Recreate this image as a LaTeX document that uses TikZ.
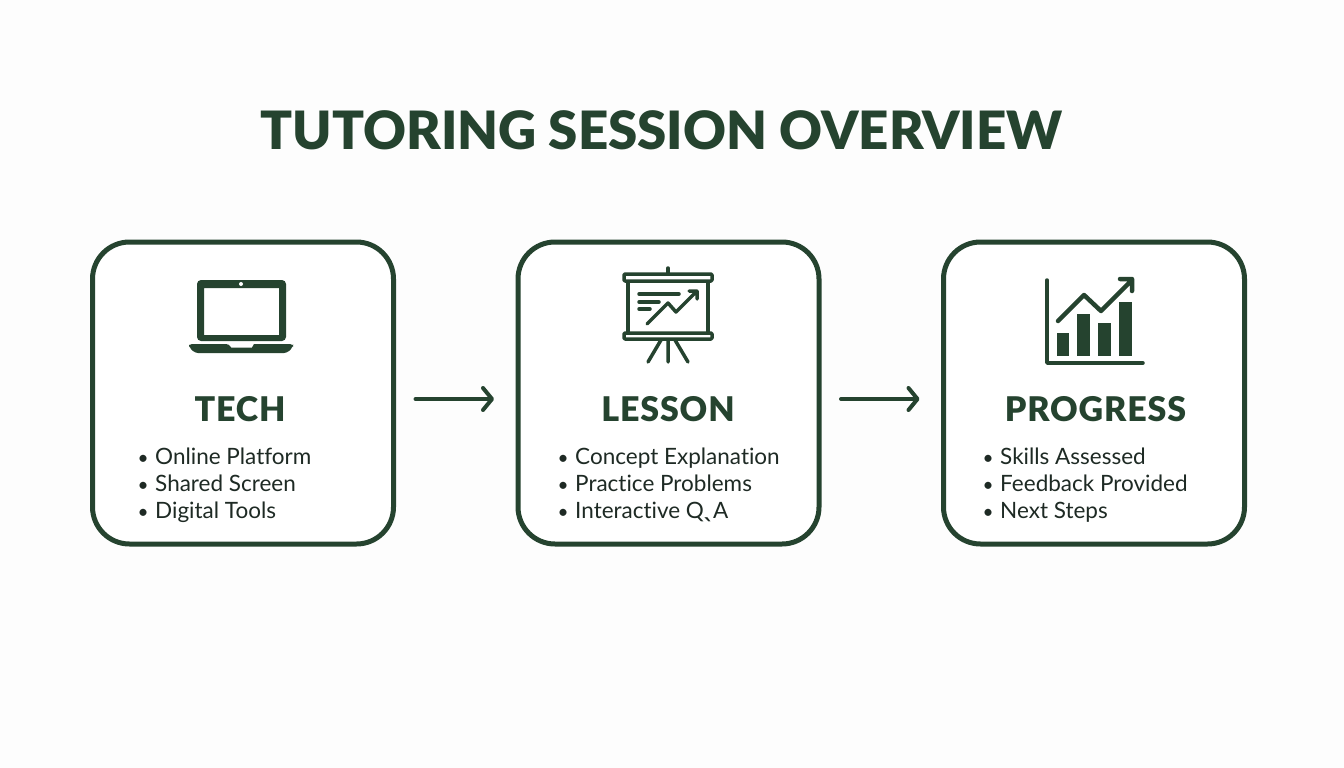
\documentclass[tikz,border=0pt]{standalone}
\usepackage{fontspec}
\setmainfont[Ligatures=NoCommon]{Lato}
\newfontfamily\titlefont[Ligatures=NoCommon]{Lato Black}
\newfontfamily\headfont[Ligatures=NoCommon, LetterSpace=2.5]{Lato Black}
\newfontfamily\tickfont{DejaVu Sans}
\usetikzlibrary{positioning,arrows.meta}
\definecolor{darkgreen}{HTML}{25432F}
\definecolor{bulletink}{HTML}{1E2A24}
\newcommand{\dotitem}{{\fontsize{19}{27}\selectfont\textbullet}\hspace{6.5pt}}
\begin{document}
\begin{tikzpicture}[
		x=1pt, y=-1pt,
		title/.style={text=darkgreen, font=\fontsize{52.8}{54}\selectfont\titlefont, inner sep=0pt},
		card/.style={rectangle, draw=darkgreen, line width=5pt, rounded corners=37pt, minimum width=301pt, minimum height=302pt, outer sep=0pt, fill=white},
		heading/.style={text=darkgreen, font=\fontsize{34}{34}\selectfont\headfont, inner sep=0pt},
		points/.style={text=bulletink, font=\fontsize{22.5}{27}\selectfont, align=left, inner sep=0pt, anchor=north west},
		flow/.style={draw=darkgreen, line width=4pt, line cap=round, -{Straight Barb[length=9pt, width=22pt, round]}, shorten <=22pt, shorten >=24pt},
		iconline/.style={draw=darkgreen, line width=3.5pt, line cap=round, line join=round},
		iconfill/.style={fill=darkgreen}
	]
	\fill[white!99!darkgreen] (0,0) rectangle (1344,768);
	\useasboundingbox (0,0) rectangle (1344,768);
	\node[title] (overview) at (661.5,130) {TUTORING SESSION OVERVIEW};
	\node[card] (tech) at (243,393) {};
	\node[card] (lesson) [right=124.5pt of tech] {};
	\node[card] (progress) [right=124.5pt of lesson] {};
	\node[heading] (techhead) at (240,409) {TECH};
	\node[heading] (lessonhead) at (668,409) {LESSON};
	\node[heading] (progresshead) at (1095.5,409) {PROGRESS};
	\node[points] (techlist) at (137.5,448) {\dotitem Online Platform\\\dotitem Shared Screen\\\dotitem Digital Tools};
	\node[points] (lessonlist) at (557.5,448) {\dotitem Concept Explanation\\\dotitem Practice Problems\\\dotitem Interactive Q\kern-0.5pt\raisebox{2pt}{\tickfont\bfseries\char"02CE}\kern-1.5pt A};
	\node[points] (progresslist) at (982.5,448) {\dotitem Skills Assessed\\\dotitem Feedback Provided\\\dotitem Next Steps};
	\draw[flow] ([yshift=-6pt]tech.east) -- ([yshift=-6pt]lesson.west);
	\draw[flow] ([yshift=-6pt]lesson.east) -- ([yshift=-6pt]progress.west);
	% laptop
	\fill[iconfill, even odd rule, rounded corners=4pt] (197,280) rectangle (286,341) (204,288) [sharp corners] rectangle (279,335);
	\fill[white] (241,284) circle (2pt);
	\fill[iconfill, rounded corners=3pt] (189,344) -- (229,344) [sharp corners] -- (231,347.5) -- (252,347.5) -- (254,344) [rounded corners=3pt] -- (293,344) -- (293,347) -- (287,353) -- (195,353) -- (189,347) -- cycle;
	% board
	\draw[iconline] (668,268) -- (668,273);
	\draw[iconline, rounded corners=1pt] (624,274) rectangle (712,281);
	\draw[iconline, rounded corners=1pt] (624,333) rectangle (712,339);
	\draw[iconline, line cap=butt] (628,281) -- (628,333) (708,281) -- (708,333);
	\draw[iconline] (668,340) -- (668,362) (661,340) -- (648,362) (675,340) -- (688,362);
	\draw[iconline] (639,294) -- (679,294) (639,302) -- (659,302) (639,309) -- (650,309);
	\draw[iconline] (647,324) -- (668,303) -- (676,312) -- (697,291) (689,291) -- (697,291) -- (697,299);
	% chart
	\draw[iconline] (1047,280) -- (1047,363) -- (1143,363);
	\fill[iconfill] (1057,333) rectangle (1069,356);
	\fill[iconfill] (1077,314) rectangle (1090,356);
	\fill[iconfill] (1098,323) rectangle (1111,356);
	\fill[iconfill] (1119,302) rectangle (1132,356);
	\draw[iconline, line width=4.5pt] (1058,321) -- (1084,295) -- (1101,311) -- (1131,281) (1120,279) -- (1132,279) -- (1132,291);
\end{tikzpicture}
\end{document}
